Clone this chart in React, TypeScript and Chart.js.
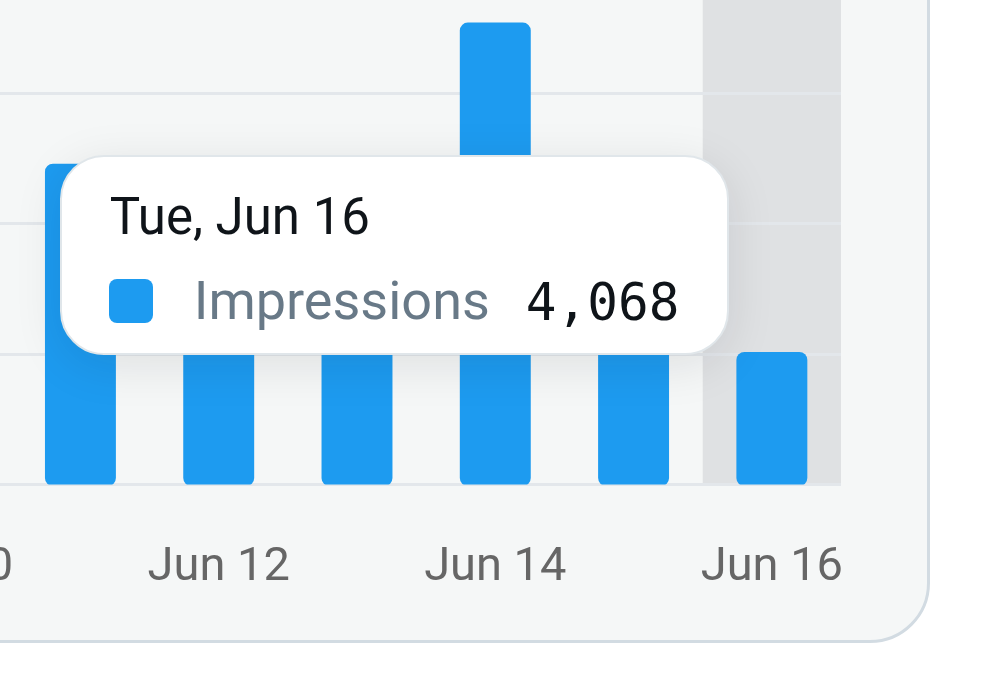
import React, { useEffect, useRef } from 'react';
import { Chart, registerables } from 'chart.js';

Chart.register(...registerables);

// ---- data ----
const dates = ['Jun 10', 'Jun 11', 'Jun 12', 'Jun 13', 'Jun 14', 'Jun 15', 'Jun 16'];
const weekdays = ['Wed', 'Thu', 'Fri', 'Sat', 'Sun', 'Mon', 'Tue'];
const impressions = [6200, 9850, 7300, 6900, 14180, 8200, 4068];
const yTicks = [0, 4000, 8000, 12000, 16000];
const seriesName = 'Impressions';
const activeIndex = 6;

// ---- layout / style constants ----
const VIEW_W = 1007;
const VIEW_H = 694;
const CANVAS_LEFT = -200;
const CANVAS_TOP = -100;
const CANVAS_W = 1060;
const CANVAS_H = 760;
const BAR_COLOR = '#1d9bf0';

const highlightPlugin = {
  id: 'columnHighlight',
  beforeDraw(chart: any) {
    const { ctx, chartArea, scales } = chart;
    const x = scales.x;
    const w = x.getPixelForValue(1) - x.getPixelForValue(0);
    const cx = x.getPixelForValue(activeIndex);
    ctx.save();
    ctx.fillStyle = '#dfe1e3';
    ctx.fillRect(cx - w / 2, chartArea.top, w, chartArea.bottom - chartArea.top);
    ctx.restore();
  },
};

export default function App() {
  const canvasRef = useRef<HTMLCanvasElement | null>(null);
  const tipRef = useRef<HTMLDivElement | null>(null);
  const titleRef = useRef<HTMLDivElement | null>(null);
  const labelRef = useRef<HTMLSpanElement | null>(null);
  const valueRef = useRef<HTMLSpanElement | null>(null);

  useEffect(() => {
    const canvas = canvasRef.current;
    if (!canvas) return;
    const chart = new Chart(canvas, {
      type: 'bar',
      data: {
        labels: dates,
        datasets: [
          {
            label: seriesName,
            data: impressions,
            backgroundColor: BAR_COLOR,
            hoverBackgroundColor: BAR_COLOR,
            borderRadius: 8,
            borderSkipped: false,
            barPercentage: 0.513,
            categoryPercentage: 1,
            base: -46,
          },
        ],
      },
      plugins: [highlightPlugin],
      options: {
        animation: false,
        responsive: false,
        events: [],
        layout: { padding: { left: 73, right: 19, top: 63.3, bottom: 7.5 } },
        scales: {
          x: {
            offset: true,
            grid: { display: false, drawTicks: false },
            border: { display: false },
            ticks: {
              autoSkip: false,
              maxRotation: 0,
              padding: 0,
              color: '#666666',
              font: { family: 'Roboto', size: 47, lineHeight: 3.574 },
              callback: (_v: any, i: number) => (i % 2 === 0 ? dates[i] : ''),
            },
          },
          y: {
            min: 0,
            max: 16000,
            afterBuildTicks: (axis: any) => {
              axis.ticks = yTicks.map((v) => ({ value: v }));
            },
            grid: { color: '#e3e7eb', lineWidth: 3, drawTicks: false },
            border: { display: false },
            ticks: { display: false },
          },
        },
        plugins: {
          legend: { display: false },
          tooltip: {
            enabled: false,
            mode: 'index',
            intersect: false,
            external: ({ chart: c, tooltip }: any) => {
              const el = tipRef.current;
              if (!el) return;
              if (tooltip.opacity === 0 || !tooltip.dataPoints || !tooltip.dataPoints.length) {
                el.style.opacity = '0';
                return;
              }
              const dp = tooltip.dataPoints[0];
              const i = dp.dataIndex;
              if (titleRef.current) titleRef.current.textContent = `${weekdays[i]}, ${dates[i]}`;
              if (labelRef.current) labelRef.current.textContent = dp.dataset.label;
              if (valueRef.current) valueRef.current.textContent = impressions[i].toLocaleString('en-US');
              const bar: any = c.getDatasetMeta(0).data[i];
              const anchorRight = CANVAS_LEFT + bar.x - bar.width / 2 - 7;
              el.style.right = `${VIEW_W - anchorRight}px`;
              el.style.top = `${CANVAS_TOP + c.chartArea.top + 191.7}px`;
              el.style.opacity = '1';
            },
          },
        },
      },
    } as any);

    const bar: any = chart.getDatasetMeta(0).data[activeIndex];
    chart.tooltip?.setActiveElements([{ datasetIndex: 0, index: activeIndex }], { x: bar.x, y: bar.y });
    chart.draw();

    return () => {
      chart.destroy();
    };
  }, []);

  return (
    <div
      style={{
        position: 'fixed',
        left: 0,
        top: 0,
        width: VIEW_W,
        height: VIEW_H,
        overflow: 'hidden',
        background: '#ffffff',
      }}
    >
      <div
        style={{
          position: 'absolute',
          left: -400,
          top: -300,
          width: 1330,
          height: 943,
          boxSizing: 'border-box',
          border: '3px solid #d2dbe2',
          borderRadius: 60,
          background: '#f5f7f7',
        }}
      />
      <canvas
        ref={canvasRef}
        width={CANVAS_W}
        height={CANVAS_H}
        style={{
          position: 'absolute',
          left: CANVAS_LEFT,
          top: CANVAS_TOP,
          width: CANVAS_W,
          height: CANVAS_H,
        }}
      />
      <div
        ref={tipRef}
        style={{
          position: 'absolute',
          opacity: 0,
          background: '#ffffff',
          border: '2px solid #e0e6ea',
          borderRadius: 44,
          boxShadow: '0 10px 48px rgba(15,20,25,0.10)',
          padding: '34px 48px 30px 47px',
          whiteSpace: 'nowrap',
          fontFamily: 'Roboto',
        }}
      >
        <div ref={titleRef} style={{ fontSize: 51, lineHeight: '51px', color: '#0f1419', paddingLeft: 1 }} />
        <div style={{ display: 'flex', alignItems: 'center', height: 44, marginTop: 37 }}>
          <span
            style={{
              display: 'inline-block',
              width: 44,
              height: 44,
              borderRadius: 8,
              background: BAR_COLOR,
              marginRight: 41,
              flex: '0 0 auto',
            }}
          />
          <span
            ref={labelRef}
            style={{ fontSize: 54, lineHeight: '44px', color: '#687987', marginRight: 36 }}
          />
          <span
            ref={valueRef}
            style={{
              fontFamily: '"DejaVu Sans Mono", monospace',
              fontSize: 51,
              lineHeight: '44px',
              color: '#0f1419',
              position: 'relative',
              top: 2,
            }}
          />
        </div>
      </div>
    </div>
  );
}
